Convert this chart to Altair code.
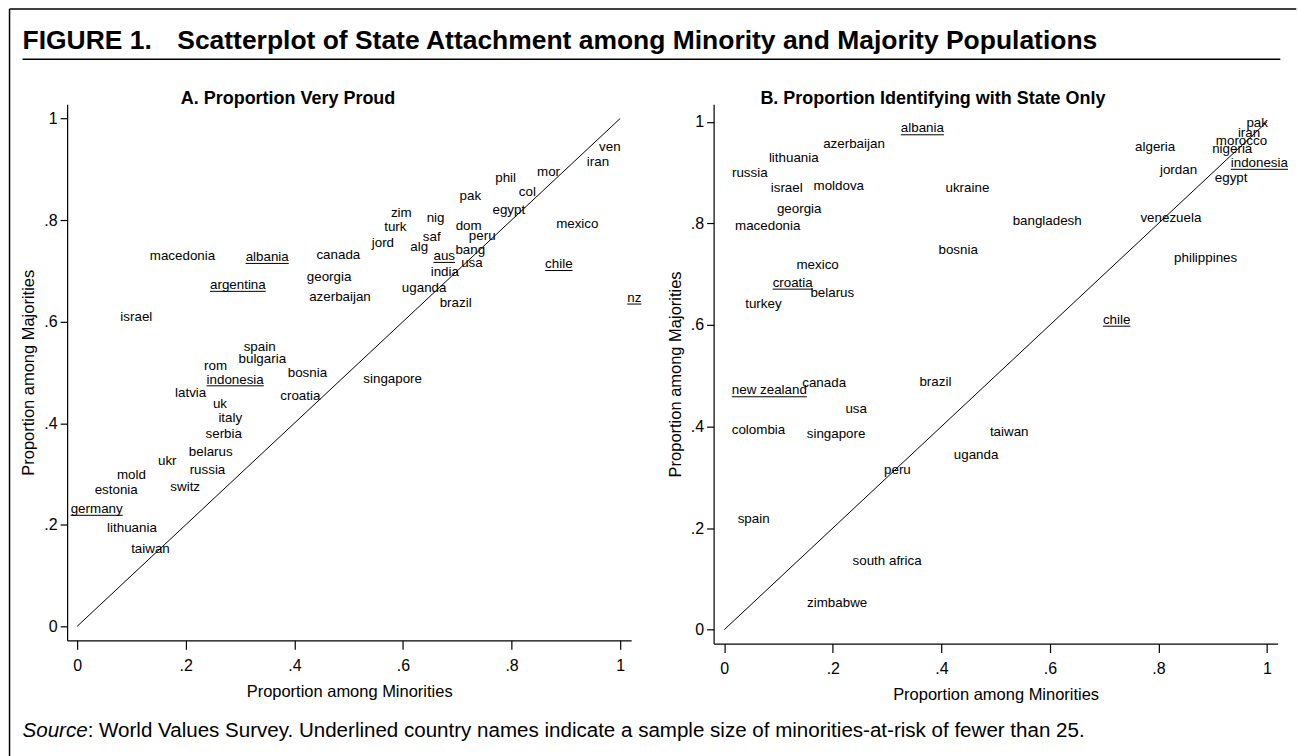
import altair as alt
import pandas as pd

FONT = "Liberation Sans"

# ---------------- Panel A: Proportion Very Proud ----------------
a_names = ["macedonia", "albania", "canada", "jord", "georgia", "argentina", "azerbaijan",
           "israel", "spain", "bulgaria", "rom", "bosnia", "indonesia", "latvia", "croatia",
           "singapore", "uk", "italy", "serbia", "belarus", "ukr", "russia", "mold", "estonia",
           "switz", "germany", "lithuania", "taiwan", "ven", "iran", "mor", "phil", "col", "pak",
           "egypt", "zim", "nig", "turk", "dom", "mexico", "saf", "peru", "alg", "bang", "aus",
           "usa", "india", "chile", "uganda", "brazil", "nz"]
a_minority = [0.194, 0.350, 0.481, 0.563, 0.464, 0.296, 0.484, 0.109, 0.336, 0.341, 0.255,
              0.424, 0.291, 0.209, 0.411, 0.581, 0.263, 0.282, 0.270, 0.246, 0.166, 0.240,
              0.100, 0.072, 0.199, 0.036, 0.101, 0.135, 0.981, 0.959, 0.868, 0.789, 0.829,
              0.724, 0.795, 0.597, 0.660, 0.586, 0.721, 0.921, 0.653, 0.746, 0.630, 0.724,
              0.676, 0.727, 0.677, 0.887, 0.639, 0.697, 1.026]
a_majority = [0.729, 0.727, 0.731, 0.755, 0.687, 0.672, 0.649, 0.609, 0.550, 0.526, 0.512,
              0.499, 0.486, 0.459, 0.454, 0.487, 0.438, 0.410, 0.379, 0.344, 0.326, 0.308,
              0.297, 0.269, 0.274, 0.231, 0.194, 0.153, 0.944, 0.915, 0.895, 0.883, 0.856,
              0.847, 0.820, 0.814, 0.805, 0.787, 0.788, 0.793, 0.767, 0.769, 0.746, 0.742,
              0.729, 0.716, 0.697, 0.713, 0.667, 0.636, 0.647]
a_underlined = ["albania", "argentina", "indonesia", "germany", "aus", "chile", "nz"]

# ---------------- Panel B: Proportion Identifying with State Only ----------------
b_names = ["albania", "azerbaijan", "lithuania", "russia", "israel", "moldova", "ukraine",
           "georgia", "macedonia", "bosnia", "mexico", "croatia", "belarus", "turkey", "canada",
           "brazil", "new zealand", "pak", "iran", "morocco", "nigeria", "algeria", "indonesia",
           "jordan", "egypt", "bangladesh", "venezuela", "philippines", "chile", "usa",
           "colombia", "singapore", "uganda", "taiwan", "peru", "spain", "south africa",
           "zimbabwe"]
b_minority = [0.365, 0.239, 0.128, 0.047, 0.115, 0.211, 0.448, 0.138, 0.080, 0.431, 0.172,
              0.126, 0.199, 0.072, 0.184, 0.389, 0.083, 0.982, 0.967, 0.953, 0.936, 0.794,
              0.986, 0.837, 0.934, 0.595, 0.823, 0.887, 0.723, 0.243, 0.063, 0.206, 0.464,
              0.525, 0.319, 0.054, 0.300, 0.208]
b_majority = [0.987, 0.957, 0.928, 0.899, 0.870, 0.874, 0.870, 0.828, 0.794, 0.747, 0.718,
              0.683, 0.663, 0.641, 0.485, 0.488, 0.471, 0.998, 0.978, 0.963, 0.946, 0.951,
              0.919, 0.906, 0.890, 0.805, 0.810, 0.731, 0.610, 0.435, 0.393, 0.385, 0.343,
              0.389, 0.315, 0.218, 0.135, 0.053]
b_underlined = ["albania", "croatia", "new zealand", "indonesia", "chile"]

tick_values = [0, 0.2, 0.4, 0.6, 0.8, 1]

fig_label = "FIGURE 1."
fig_title = "Scatterplot of State Attachment among Minority and Majority Populations"
a_title = "A. Proportion Very Proud"
b_title = "B. Proportion Identifying with State Only"
x_title = "Proportion among Minorities"
y_title = "Proportion among Majorities"
src_italic = "Source"
src_rest = ": World Values Survey. Underlined country names indicate a sample size of minorities-at-risk of fewer than 25."

# ---------------- helpers ----------------
ARIAL = {'a': 556, 'b': 556, 'c': 500, 'd': 556, 'e': 556, 'f': 278, 'g': 556, 'h': 556,
         'i': 222, 'j': 222, 'k': 500, 'l': 222, 'm': 833, 'n': 556, 'o': 556, 'p': 556,
         'q': 556, 'r': 333, 's': 500, 't': 278, 'u': 556, 'v': 500, 'w': 722, 'x': 500,
         'y': 500, 'z': 500, ' ': 278, 'S': 667}


def text_width(s, size):
    return sum(ARIAL.get(c, 556) for c in s) / 1000.0 * size


LABEL_SIZE = 13.4
LBL = ("datum.value == 0 ? '0' : datum.value == 1 ? '1' : "
       "replace(format(datum.value, '.1f'), '0.', '.')")

# layout (absolute pixel anchors in the page)
A_OX, A_OY = 66.7, 103.0
B_OX = 714.3
PLOT_W = 565
A_H = 537
B_H = 540.3
A_XDOM = [-0.0184, 1.0202]
A_YDOM = [-0.0275, 1.0281]
B_XDOM = [-0.0197, 1.0197]
B_YDOM = [-0.0275, 1.0348]
one = pd.DataFrame({"k": [0]})


def make_panel(names, xs, ys, underlined, xdom, ydom, h, title, title_cx, ox, extra=None):
    df = pd.DataFrame({"country": names, "minority": xs, "majority": ys})
    pxu = PLOT_W / (xdom[1] - xdom[0])
    ul = df[df["country"].isin(underlined)].copy()
    half = ul["country"].map(lambda s: text_width(s, LABEL_SIZE) / 2.0 / pxu)
    ul["x1"] = ul["minority"] - half
    ul["x2"] = ul["minority"] + half

    xsc = alt.Scale(domain=xdom, nice=False, zero=False)
    ysc = alt.Scale(domain=ydom, nice=False, zero=False)
    xax = alt.Axis(values=tick_values, labelExpr=LBL, title=x_title, tickSize=9,
                   labelPadding=8, titlePadding=10, grid=False)
    yax = alt.Axis(values=tick_values, labelExpr=LBL, title=y_title, tickSize=7,
                   labelPadding=3, titlePadding=7, grid=False)

    def X(f):
        return alt.X(f, type="quantitative", scale=xsc, axis=xax)

    def Y(f):
        return alt.Y(f, type="quantitative", scale=ysc, axis=yax)

    diag = alt.Chart(pd.DataFrame({"x0": [0], "y0": [0], "x1": [1], "y1": [1]})).mark_rule(
        color="black", strokeWidth=1).encode(x=X("x0"), y=Y("y0"), x2="x1", y2="y1")
    labels = alt.Chart(df).mark_text(font=FONT, fontSize=LABEL_SIZE, align="center",
                                     baseline="middle", color="black").encode(
        x=X("minority"), y=Y("majority"), text="country:N")
    unders = alt.Chart(ul).mark_rule(color="black", strokeWidth=1, yOffset=6.3).encode(
        x=X("x1"), x2="x2", y=Y("majority"))
    ptitle = alt.Chart(one).mark_text(font=FONT, fontSize=18, fontWeight="bold",
                                      align="center", baseline="alphabetic",
                                      color="black").encode(
        x=alt.value(title_cx - ox), y=alt.value(103 - A_OY), text=alt.value(title))
    layers = [diag, labels, unders, ptitle]
    if extra:
        layers += extra
    return alt.layer(*layers).properties(width=PLOT_W, height=h)


# decorations (frame, figure title, rule, source note) drawn relative to panel A
def rx(v):
    return v - A_OX


def ry(v):
    return v - A_OY


TITLE_SIZE = 26.5
frame_left = alt.Chart(one).mark_rule(color="black", strokeWidth=1.5).encode(
    x=alt.value(rx(9)), y=alt.value(ry(7.5)), y2=alt.value(ry(756)))
frame_top = alt.Chart(one).mark_rule(color="black", strokeWidth=1.5).encode(
    x=alt.value(rx(9)), x2=alt.value(rx(1298)), y=alt.value(ry(7.5)))
title_rule = alt.Chart(one).mark_rule(color="black", strokeWidth=1.5).encode(
    x=alt.value(rx(22)), x2=alt.value(rx(1282)), y=alt.value(ry(58)))
t1 = alt.Chart(one).mark_text(font=FONT, fontSize=TITLE_SIZE, fontWeight="bold", align="left",
                              baseline="middle", color="black").encode(
    x=alt.value(rx(22)), y=alt.value(ry(40)), text=alt.value(fig_label))
t2 = alt.Chart(one).mark_text(font=FONT, fontSize=TITLE_SIZE, fontWeight="bold", align="left",
                              baseline="middle", color="black").encode(
    x=alt.value(rx(177)), y=alt.value(ry(40)), text=alt.value(fig_title))
SRC_SIZE = 20.6
s1 = alt.Chart(one).mark_text(font=FONT, fontSize=SRC_SIZE, fontStyle="italic", align="left",
                              baseline="middle", color="black").encode(
    x=alt.value(rx(22)), y=alt.value(ry(731)), text=alt.value(src_italic))
s2 = alt.Chart(one).mark_text(font=FONT, fontSize=SRC_SIZE, align="left",
                              baseline="middle", color="black").encode(
    x=alt.value(rx(22) + text_width(src_italic, SRC_SIZE)), y=alt.value(ry(731)),
    text=alt.value(src_rest))

panel_a = make_panel(a_names, a_minority, a_majority, a_underlined, A_XDOM, A_YDOM, A_H,
                     a_title, 288, A_OX,
                     extra=[frame_left, frame_top, title_rule, t1, t2, s1, s2])
panel_b = make_panel(b_names, b_minority, b_majority, b_underlined, B_XDOM, B_YDOM, B_H,
                     b_title, 934, B_OX)

chart = alt.hconcat(panel_a, panel_b, spacing=B_OX - (A_OX + PLOT_W), bounds="flush").properties(
    padding={"left": 8.25, "top": 6.75, "right": 0, "bottom": 0},
    background="white",
).configure_view(stroke=None).configure_axis(
    domainColor="black", tickColor="black", labelColor="black", titleColor="black",
    labelFont=FONT, titleFont=FONT, labelFontSize=16, titleFontSize=16.5,
    titleFontWeight="normal", domainWidth=1.2, tickWidth=1.2,
)

chart.save("out.html", embed_options={"renderer": "svg", "actions": False})
